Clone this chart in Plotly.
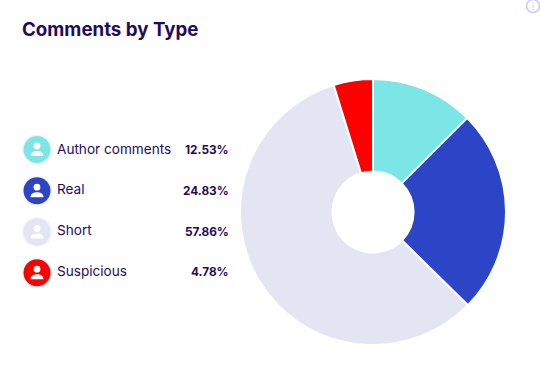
import plotly.graph_objects as go

W, H = 540, 373
categories = ["Author comments", "Real", "Short", "Suspicious"]
shares = [12.53, 24.83, 57.86, 4.78]
share_labels = ["12.53%", "24.83%", "57.86%", "4.78%"]
colors = ["#7ce6e6", "#2c44c6", "#e3e5f3", "#fe0000"]
title_text = "Comments by Type"
NAVY = "#1f0b5e"
FONT = "Inter, Open Sans, sans-serif"

icon_y = [149.5, 190.7, 232, 272.7]
text_y = [149, 189, 230, 271]
value_y = [150, 191, 232, 272]
ICON_X = 37


def px(x):
    return x / W


def py(y):
    return 1 - y / H


def circle(cx, cy, r, fill, line=None, lw=0):
    return dict(type="circle", xref="paper", yref="paper",
                x0=px(cx - r), x1=px(cx + r), y0=py(cy + r), y1=py(cy - r),
                fillcolor=fill, line=dict(color=line or fill, width=lw), layer="above")


def dome(cx, cy, fill):
    pts = [(cx - 6.5, cy + 6.5), (cx - 6.5, cy + 2.5), (cx - 3, cy + 1.5), (cx, cy + 1.5),
           (cx + 3, cy + 1.5), (cx + 6.5, cy + 2.5), (cx + 6.5, cy + 6.5)]
    p = [f"{px(x):.5f},{py(y):.5f}" for x, y in pts]
    path = f"M{p[0]} C{p[1]} {p[2]} {p[3]} C{p[4]} {p[5]} {p[6]} Z"
    return dict(type="path", xref="paper", yref="paper", path=path,
                fillcolor=fill, line=dict(width=0), layer="above")


fig = go.Figure(go.Pie(
    values=shares, labels=categories, sort=False, direction="clockwise",
    rotation=0, hole=0.305,
    marker=dict(colors=colors, line=dict(color="#ffffff", width=2)),
    textinfo="none", hoverinfo="label+percent", showlegend=False,
    domain=dict(x=[px(240), px(506)], y=[py(345), py(79)]),
))

shapes = []
annotations = [dict(
    text=title_text, xref="paper", yref="paper", x=px(20), y=py(29),
    xanchor="left", yanchor="middle", showarrow=False,
    font=dict(family=FONT, size=18.7, color=NAVY, weight=700),
)]

for name, label, color, iy, ty, vy in zip(categories, share_labels, colors, icon_y, text_y, value_y):
    shapes.append(circle(ICON_X, iy, 15, "#f3f4fb"))
    shapes.append(circle(ICON_X, iy, 13.5, color))
    shapes.append(circle(ICON_X, iy - 3.5, 3.4, "#ffffff"))
    shapes.append(dome(ICON_X, iy, "#ffffff"))
    annotations.append(dict(
        text=name, xref="paper", yref="paper", x=px(55), y=py(ty),
        xanchor="left", yanchor="middle", showarrow=False,
        font=dict(family=FONT, size=13.6, color=NAVY),
    ))
    annotations.append(dict(
        text=label, xref="paper", yref="paper", x=px(230.5), y=py(vy),
        xanchor="right", yanchor="middle", showarrow=False,
        font=dict(family=FONT, size=11.8, color=NAVY, weight=700),
    ))

shapes.append(circle(533, 6, 6.5, "rgba(0,0,0,0)", "#c9ccf0", 1.5))
annotations.append(dict(
    text="i", xref="paper", yref="paper", x=px(533), y=py(6),
    xanchor="center", yanchor="middle", showarrow=False,
    font=dict(family=FONT, size=9, color="#c9ccf0"),
))

fig.update_layout(
    width=W, height=H, autosize=False,
    margin=dict(l=0, r=0, t=0, b=0),
    paper_bgcolor="#ffffff", plot_bgcolor="#ffffff",
    shapes=shapes, annotations=annotations,
)
fig.write_html("out.html", config=dict(displayModeBar=False),
               post_script="document.body.style.margin='0';document.body.style.overflow='hidden';")
